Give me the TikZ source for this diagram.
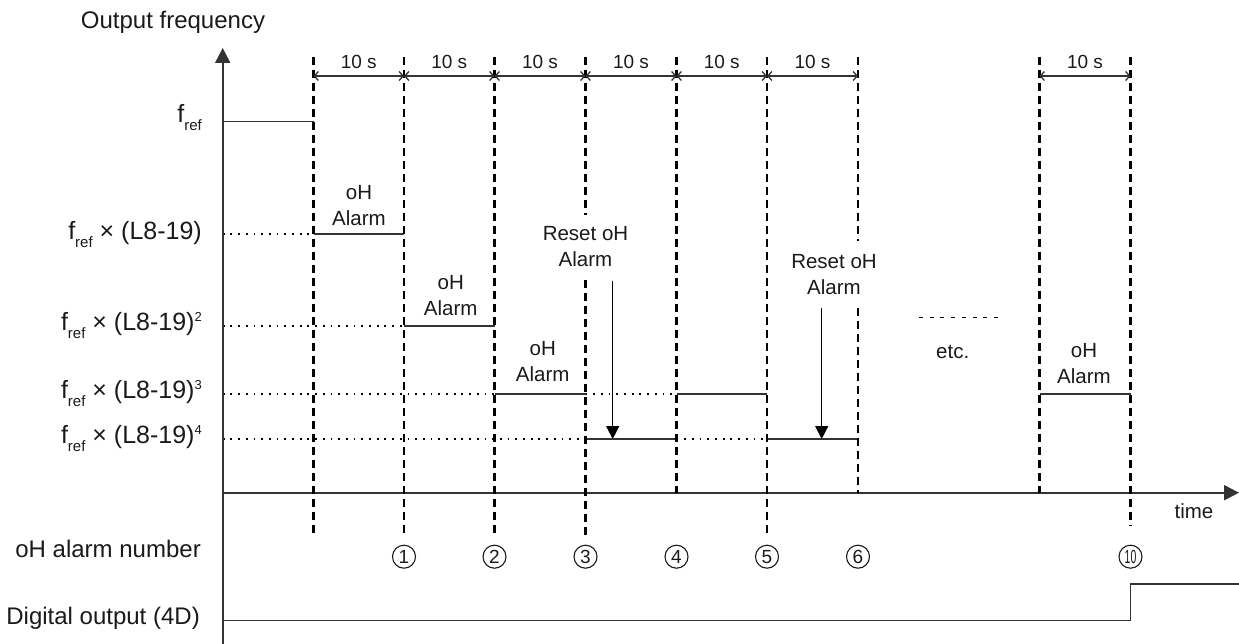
\documentclass[tikz,border=0pt]{standalone}
\usepackage{fontspec}
\setmainfont{Liberation Sans}
\usetikzlibrary{arrows.meta}
\definecolor{ink}{HTML}{1A1A1A}
\definecolor{lvl}{HTML}{333333}
\newcommand\fref{f\raisebox{-8pt}{\fontsize{15}{15}\selectfont ref}}
\newcommand\sq[1]{\raisebox{9pt}{\fontsize{13}{13}\selectfont #1}}
\begin{document}
\begin{tikzpicture}[x=1pt,y=-1pt,
  lab/.style={text=ink,font=\fontsize{24}{28}\selectfont,inner sep=0pt},
  flab/.style={text=ink,font=\fontsize{25}{28}\selectfont,inner sep=0pt,anchor=east},
  note/.style={text=ink,font=\fontsize{20.5}{26}\selectfont,align=center,inner sep=0pt},
  dur/.style={text=ink,font=\fontsize{19}{22}\selectfont,inner sep=0pt},
  num/.style={text=ink,draw=ink,line width=1.1pt,circle,minimum size=23pt,inner sep=0pt,font=\fontsize{19}{19}\selectfont},
  grid/.style={black,line width=2.2pt,dash pattern=on 8pt off 5pt},
  dots/.style={black,line width=1.8pt,dash pattern=on 1.8pt off 5.9pt},
  level/.style={lvl,line width=1.6pt},
  axis/.style={lvl,line width=2pt},
  dim/.style={lvl,line width=1.3pt,{Straight Barb[length=4pt,width=9pt]}-{Straight Barb[length=4pt,width=9pt]}},
  reset/.style={black,line width=1.5pt,-{Triangle[length=13pt,width=13pt]}}
]
\useasboundingbox (0,0) rectangle (1239,644);
% time columns
\coordinate (t0) at (313.5,57);
\coordinate (t1) at (404,57);
\coordinate (t2) at (494.5,57);
\coordinate (t3) at (585.5,57);
\coordinate (t4) at (676.5,57);
\coordinate (t5) at (767,57);
\coordinate (t6) at (858,57);
\coordinate (t7) at (1039.5,57);
\coordinate (t8) at (1130.5,57);
% levels on the frequency axis
\coordinate (Yr) at (222.7,121.7);
\coordinate (Y1) at (222.7,234.3);
\coordinate (Y2) at (222.7,325.7);
\coordinate (Y3) at (222.7,393.7);
\coordinate (Y4) at (222.7,439);
\coordinate (Ydim) at (222.7,76);
\coordinate (Ylow) at (222.7,535.7);
\coordinate (Ylow2) at (222.7,526);
\coordinate (O) at (222.7,492.7);
\coordinate (ybot) at (222.7,644);
\coordinate (ytop) at (222.7,48);
\coordinate (tend) at (1239,492.7);
\coordinate (D0) at (222.7,620.3);
\coordinate (D1) at (1239,584);

% labels
\node[lab] (title) at (173,22) {Output frequency};
\node[flab] (lr) at (202,118) {\fref};
\node[flab] (l1) at (202,234.3) {\fref{} × (L8-19)};
\node[flab] (l2) at (202,325.7) {\fref{} × (L8-19)\sq{2}};
\node[flab] (l3) at (202,393.7) {\fref{} × (L8-19)\sq{3}};
\node[flab] (l4) at (202,439) {\fref{} × (L8-19)\sq{4}};
\node[lab,anchor=east] (lnum) at (201,549) {oH alarm number};
\node[lab,anchor=east] (ldo) at (200,618) {Digital output (4D)};
\node[note] (time) at (1194,510.7) {time};

% dotted reference levels
\draw[dots] (Y1) -- (t0|-Y1);
\draw[dots] (Y2) -- (t1|-Y2);
\draw[dots] (Y3) -- (t2|-Y3);
\draw[dots] (t3|-Y3) -- (t4|-Y3);
\draw[dots] (Y4) -- (t3|-Y4);
\draw[dots] (t4|-Y4) -- (t5|-Y4);

% output frequency levels
\draw[level] (Yr) -- (t0|-Yr);
\draw[level] (t0|-Y1) -- (t1|-Y1);
\draw[level] (t1|-Y2) -- (t2|-Y2);
\draw[level] (t2|-Y3) -- (t3|-Y3);
\draw[level] (t4|-Y3) -- (t5|-Y3);
\draw[level] (t3|-Y4) -- (t4|-Y4);
\draw[level] (t5|-Y4) -- (t6|-Y4);
\draw[level] (t7|-Y3) -- (t8|-Y3);

% axes
\draw[axis,-{Triangle[length=15pt,width=15pt]}] (ybot) -- (ytop);
\draw[axis,-{Triangle[length=15pt,width=15pt]}] (O) -- (tend);

% digital output
\draw[level] (D0) -- (t8|-D0) -- (t8|-D1) -- (D1);

% dashed time marks
\draw[grid] (t0) -- (t0|-Ylow);
\draw[grid] (t1) -- (t1|-Ylow);
\draw[grid] (t2) -- (t2|-Ylow);
\coordinate (g3a) at (585.5,215);
\coordinate (g3b) at (585.5,280);
\draw[grid] (t3) -- (g3a);
\draw[grid] (g3b) -- (t3|-Ylow);
\draw[grid] (t4) -- (t4|-O);
\draw[grid] (t5) -- (t5|-Ylow);
\coordinate (g6a) at (858,241);
\coordinate (g6b) at (858,308);
\draw[grid] (t6) -- (g6a);
\draw[grid] (g6b) -- (t6|-O);
\draw[grid] (t7) -- (t7|-O);
\draw[grid] (t8) -- (t8|-Ylow2);

% 10 s dimensions
\foreach \a/\b in {t0/t1,t1/t2,t2/t3,t3/t4,t4/t5,t5/t6,t7/t8}
  \draw[dim] (\a|-Ydim) -- node[dur,above=7pt] {10 s} (\b|-Ydim);

% alarm notes
\node[note] (a1) at (359,205.5) {oH\\Alarm};
\node[note] (a2) at (450.7,296) {oH\\Alarm};
\node[note] (a3) at (542.7,361.5) {oH\\Alarm};
\node[note] (a10) at (1084,363.3) {oH\\Alarm};
\node[note] (r1) at (585.5,247) {Reset oH\\Alarm};
\node[note] (r2) at (834,275) {Reset oH\\Alarm};
\node[note] (etc) at (952.7,351.7) {etc.};
\coordinate (e0) at (919,317.7);
\coordinate (e1) at (998,317.7);
\draw[black,line width=1.2pt,dash pattern=on 4pt off 6.7pt] (e0) -- (e1);

% reset arrows
\coordinate (ra) at (612.7,281);
\coordinate (rb) at (821.7,307.7);
\draw[reset] (ra) -- (ra|-Y4);
\draw[reset] (rb) -- (rb|-Y4);

% alarm numbers
\coordinate (N) at (0,556.7);
\node[num] (n1) at (t1|-N) {1};
\node[num] (n2) at (t2|-N) {2};
\node[num] (n3) at (t3|-N) {3};
\node[num] (n4) at (t4|-N) {4};
\node[num] (n5) at (t5|-N) {5};
\node[num] (n6) at (t6|-N) {6};
\node[num] (n10) at (t8|-N) {\scalebox{0.55}[1]{10}};
\end{tikzpicture}
\end{document}
